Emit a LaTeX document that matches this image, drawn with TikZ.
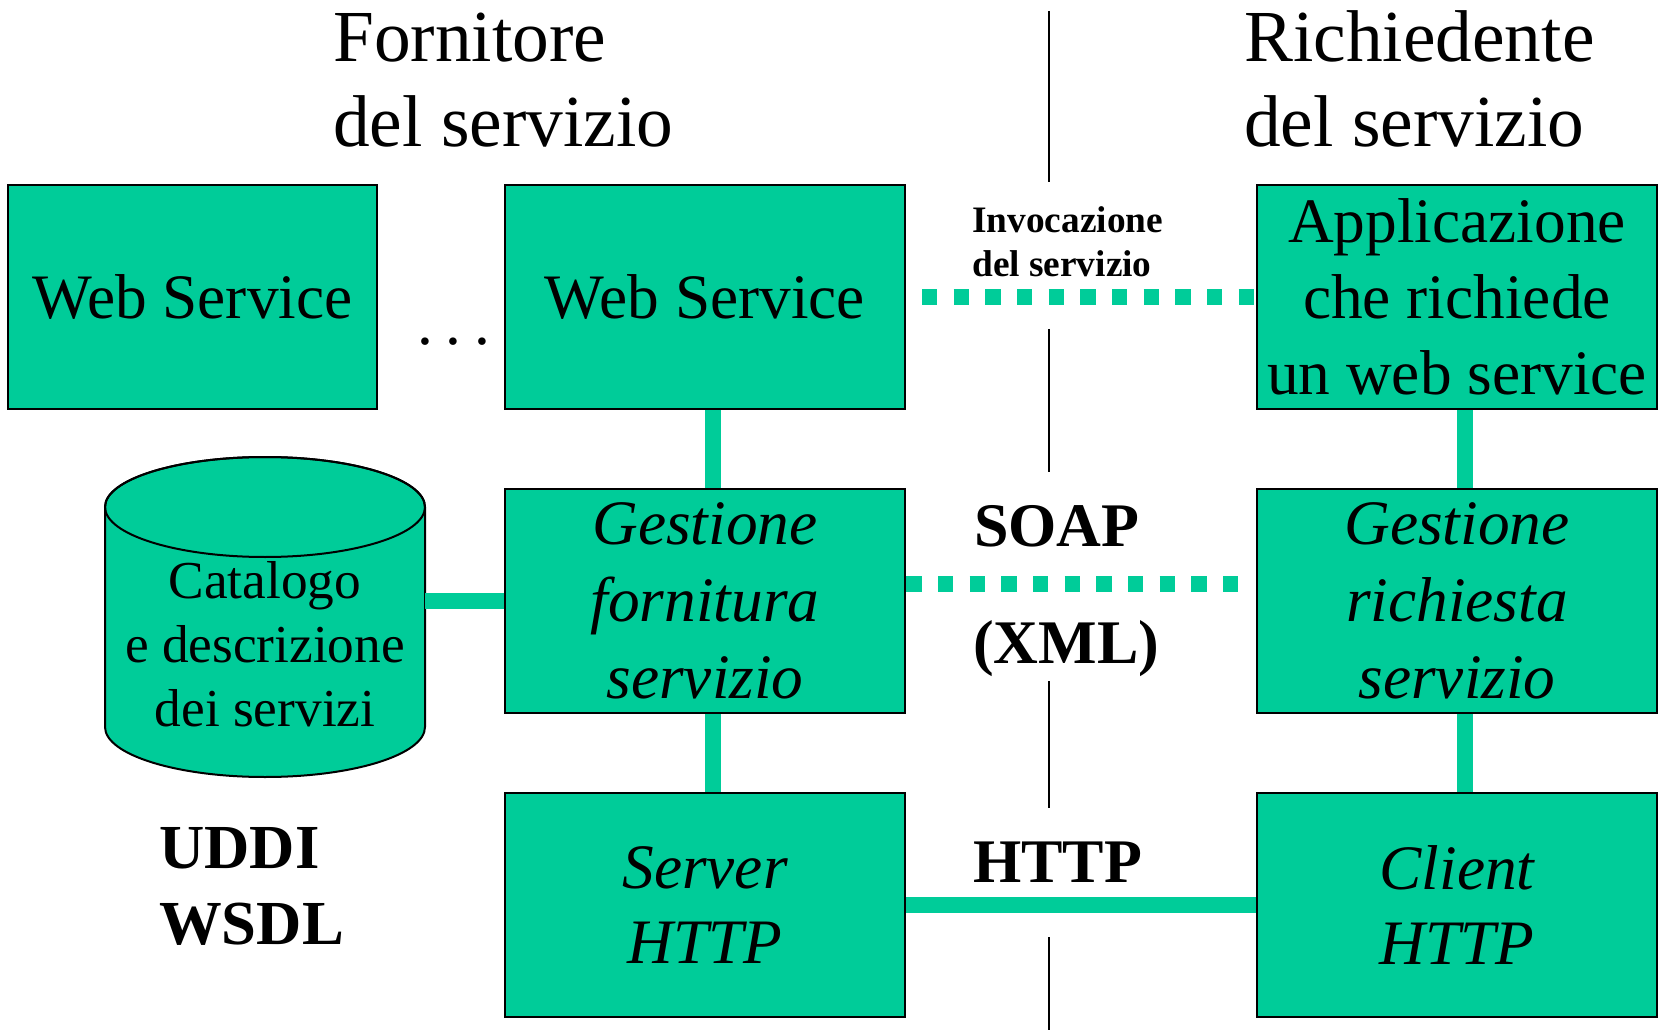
\documentclass[tikz,border=0pt]{standalone}
\usepackage{fontspec}
\setmainfont{Liberation Serif}
\usepackage{tikz}
\usetikzlibrary{arrows,backgrounds,calc}
\definecolor{wsgreen}{RGB}{0,204,153}

\tikzset{
  block/.style={draw=black, line width=2pt, fill=wsgreen, minimum width=300pt, minimum height=168pt, inner sep=0pt, align=center, font=\fontsize{47.5}{57}\selectfont},
  link/.style={draw=wsgreen, line width=12pt},
  dotlink/.style={draw=wsgreen, line width=12pt, dash pattern=on 11.5pt off 12.25pt},
  divider/.style={draw=black, line width=1.4pt},
  label/.style={anchor=base west, inner sep=0pt, align=left},
}

\begin{document}
\begin{tikzpicture}[x=0.75pt,y=0.75pt,yscale=-1,xscale=1]
\useasboundingbox (0,0) rectangle (1663,1030);

%Straight Lines: divider
\draw[divider] (1049,11) -- (1049,182) ;
\draw[divider] (1049,329) -- (1049,472) ;
\draw[divider] (1049,681) -- (1049,808) ;
\draw[divider] (1049,937) -- (1049,1030) ;

% Text Node: headings (base = last line)
\node[label, font=\fontsize{55}{64}\selectfont] (fornitore) at (333,147) {Fornitore\\del servizio};
\node[label, font=\fontsize{55}{64}\selectfont] (richiedente) at (1244,147) {Richiedente\\del servizio};

%Shape: Rectangle
\node[block, minimum width=276.75pt] (ws1) at (192.5,297) {Web Service};
\node[block] (ws2) at (705,297) {Web Service};
\node[block] (app) at (1457,297) {Applicazione\\che richiede\\un web service};
\node[block, font=\fontsize{47.5}{58}\selectfont\itshape] (gf) at (705,601) {Gestione\\fornitura\\servizio};
\node[block, font=\fontsize{47.5}{58}\selectfont\itshape] (gr) at (1457,601) {Gestione\\richiesta\\servizio};
\node[block, font=\fontsize{47.5}{56}\selectfont\itshape] (srv) at (705,905) {Server\\HTTP};
\node[block, font=\fontsize{47.5}{56}\selectfont\itshape] (cli) at (1457,905) {Client\\HTTP};

% Text Node
\node[label, font=\fontsize{47.5}{57}\selectfont] (dots) at (417,345) {.\hspace{0.2em}.\hspace{0.2em}.};

%Shape: Cylinder
\draw[line width=1.5pt, fill=wsgreen] (105,507) -- (105,727) arc[start angle=180, end angle=0, x radius=160, y radius=50] -- (425,507) arc[start angle=0, end angle=-180, x radius=160, y radius=50] -- cycle ;
\draw[line width=1.5pt] (265,507) ellipse [x radius=160, y radius=50] ;
\node[align=center, inner sep=0pt, font=\fontsize{40}{48}\selectfont] (cat) at (265,644) {Catalogo\\e descrizione\\dei servizi};
\coordinate (catR) at (425,601);

%Straight Lines
\draw[link] (catR) -- (gf.west) ;
\draw[link] ([xshift=6pt]ws2.south) -- ([xshift=6pt]gf.north) ;
\draw[link] ([xshift=6pt]gf.south) -- ([xshift=6pt]srv.north) ;
\draw[link] ([xshift=6pt]app.south) -- ([xshift=6pt]gr.north) ;
\draw[link] ([xshift=6pt]gr.south) -- ([xshift=6pt]cli.north) ;
\draw[link] (srv.east) -- (cli.west) ;
\draw[dotlink, dash phase=12pt] (ws2.east) -- (app.west) ;
\draw[dotlink, shorten >=12pt] ($(gf.east)+(0,-17)$) -- ($(gr.west)+(0,-17)$) ;

% Text Node
\node[label, font=\fontsize{28}{33}\selectfont\bfseries] (invoc) at (972,277) {Invocazione\\del servizio};
\node[label, font=\fontsize{46.5}{56}\selectfont\bfseries] (soap) at (974,546) {SOAP};
\node[label, font=\fontsize{46.5}{56}\selectfont\bfseries] (xml) at (973,663) {(XML)};
\node[label, font=\fontsize{46.5}{56}\selectfont\bfseries] (http) at (973,882) {HTTP};
\node[label, font=\fontsize{47}{57}\selectfont\bfseries] (uddi) at (159,944) {UDDI\\WSDL};

\end{tikzpicture}
\end{document}
